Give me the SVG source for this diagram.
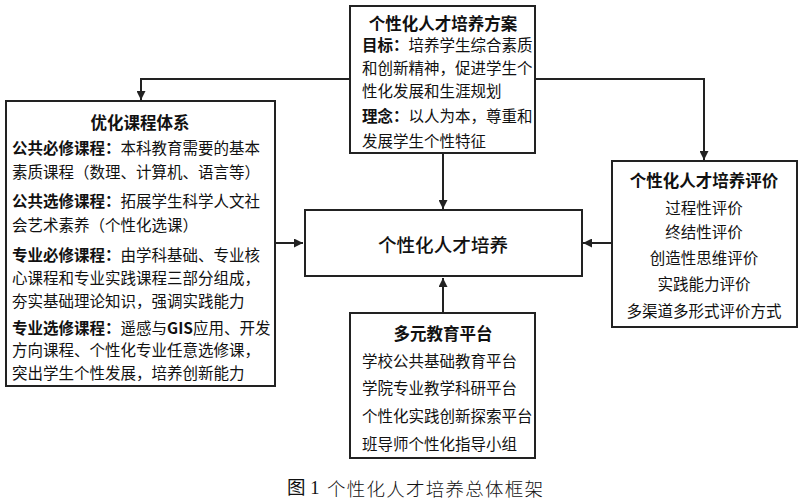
<svg xmlns="http://www.w3.org/2000/svg" width="800" height="502" viewBox="0 0 800 502">
<defs>
<style>
.box{fill:#fff;stroke:#222;stroke-width:2}
.ln{fill:none;stroke:#222;stroke-width:2}
text{font-family:"Noto Sans CJK SC","Liberation Sans",sans-serif;fill:#111;dominant-baseline:central}
.t{font-size:16.5px;font-weight:bold;text-anchor:middle}
.b{font-size:15.5px}
.c{font-size:15.5px;text-anchor:middle}
.k{font-weight:bold}
.cap{font-size:18.5px}
</style>
<marker id="ah" viewBox="0 0 10 10" refX="10" refY="5" markerWidth="4.5" markerHeight="4.5" orient="auto" markerUnits="strokeWidth">
<path d="M0,0 L10,5 L0,10 z" fill="#222"/>
</marker>
</defs>
<rect width="800" height="502" fill="#fff"/>
<g id="connectors">
<polyline class="ln" points="350,79 141,79 141,100" marker-end="url(#ah)"/>
<polyline class="ln" points="535,79 704,79 704,160" marker-end="url(#ah)"/>
<line class="ln" x1="443" y1="153" x2="443" y2="209" marker-end="url(#ah)"/>
<line class="ln" x1="275" y1="243" x2="303" y2="243" marker-end="url(#ah)"/>
<line class="ln" x1="612" y1="243" x2="583" y2="243" marker-end="url(#ah)"/>
<line class="ln" x1="443" y1="313" x2="443" y2="278" marker-end="url(#ah)"/>
</g>
<g id="plan">
<rect class="box" x="350" y="6" width="185" height="147"/>
<text class="t" x="443" y="23">个性化人才培养方案</text>
<text class="b" x="362" y="44"><tspan class="k">目标：</tspan>培养学生综合素质</text>
<text class="b" x="362" y="67">和创新精神，促进学生个</text>
<text class="b" x="362" y="90">性化发展和生涯规划</text>
<text class="b" x="362" y="115"><tspan class="k">理念：</tspan>以人为本，尊重和</text>
<text class="b" x="362" y="140">发展学生个性特征</text>
</g>
<g id="courses">
<rect class="box" x="6" y="101" width="269" height="285"/>
<text class="t" x="140" y="122">优化课程体系</text>
<text class="b" x="12" y="147"><tspan class="k">公共必修课程：</tspan>本科教育需要的基本</text>
<text class="b" x="12" y="171">素质课程（数理、计算机、语言等）</text>
<text class="b" x="12" y="200"><tspan class="k">公共选修课程：</tspan>拓展学生科学人文社</text>
<text class="b" x="12" y="224">会艺术素养（个性化选课）</text>
<text class="b" x="12" y="254"><tspan class="k">专业必修课程：</tspan>由学科基础、专业核</text>
<text class="b" x="12" y="277">心课程和专业实践课程三部分组成，</text>
<text class="b" x="12" y="300">夯实基础理论知识，强调实践能力</text>
<text class="b" x="12" y="327"><tspan class="k">专业选修课程：</tspan>遥感与<tspan class="k">GIS</tspan>应用、开发</text>
<text class="b" x="12" y="349">方向课程、个性化专业任意选修课，</text>
<text class="b" x="12" y="372">突出学生个性发展，培养创新能力</text>
</g>
<g id="center">
<rect class="box" x="305" y="210" width="277" height="66"/>
<text x="443" y="243" style="font-size:18.6px;text-anchor:middle;font-weight:500">个性化人才培养</text>
</g>
<g id="evaluation">
<rect class="box" x="612" y="161" width="185" height="166"/>
<text class="t" x="704" y="180">个性化人才培养评价</text>
<text class="c" x="704" y="207">过程性评价</text>
<text class="c" x="704" y="231">终结性评价</text>
<text class="c" x="704" y="257">创造性思维评价</text>
<text class="c" x="704" y="283">实践能力评价</text>
<text class="c" x="704" y="310">多渠道多形式评价方式</text>
</g>
<g id="platform">
<rect class="box" x="350" y="313" width="185" height="145"/>
<text class="t" x="443" y="333">多元教育平台</text>
<text class="b" x="362" y="360">学校公共基础教育平台</text>
<text class="b" x="362" y="387">学院专业教学科研平台</text>
<text class="b" x="362" y="415">个性化实践创新探索平台</text>
<text class="b" x="362" y="443">班导师个性化指导小组</text>
</g>
<g id="caption">
<text class="cap" x="287" y="488" style="font-family:'Liberation Serif','Noto Sans CJK SC',serif">图 1</text>
<text class="cap" x="327" y="488" textLength="216" lengthAdjust="spacing" style="font-weight:300">个性化人才培养总体框架</text>
</g>
</svg>
